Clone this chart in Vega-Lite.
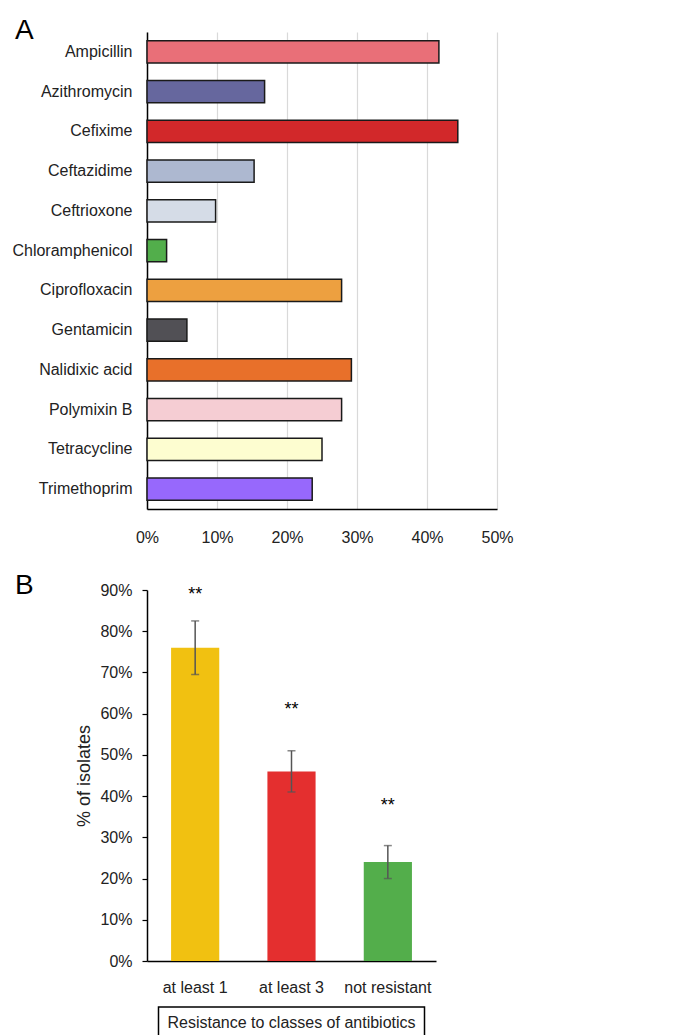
{
  "$schema": "https://vega.github.io/schema/vega-lite/v6.json",
  "autosize": {"type": "pad"},
  "padding": {"left": 11, "top": 17, "right": 10, "bottom": 0},
  "background": "white",
  "config": {
    "font": "Liberation Sans",
    "view": {"stroke": null},
    "axis": {"labelFont": "Liberation Sans", "titleFont": "Liberation Sans", "labelColor": "#222", "titleColor": "#222", "labelFontSize": 16, "titleFontWeight": "normal", "labelFlush": false},
    "title": {"font": "Liberation Sans", "fontSize": 28, "fontWeight": "normal", "anchor": "start", "frame": "group", "baseline": "alphabetic", "offset": 0, "color": "#000"}
  },
  "bounds": "flush",
  "spacing": 81,
  "resolve": {"scale": {"color": "independent"}},
  "vconcat": [
    {
      "width": 350,
      "height": 477,
      "title": {"text": "A", "dx": -132, "dy": 17},
      "data": {"values": [
        {"antibiotic": "Ampicillin", "pct": 0.417},
        {"antibiotic": "Azithromycin", "pct": 0.168},
        {"antibiotic": "Cefixime", "pct": 0.444},
        {"antibiotic": "Ceftazidime", "pct": 0.153},
        {"antibiotic": "Ceftrioxone", "pct": 0.098},
        {"antibiotic": "Chloramphenicol", "pct": 0.028},
        {"antibiotic": "Ciprofloxacin", "pct": 0.278},
        {"antibiotic": "Gentamicin", "pct": 0.057},
        {"antibiotic": "Nalidixic acid", "pct": 0.292},
        {"antibiotic": "Polymixin B", "pct": 0.278},
        {"antibiotic": "Tetracycline", "pct": 0.25},
        {"antibiotic": "Trimethoprim", "pct": 0.236}
      ]},
      "mark": {"type": "bar", "stroke": "#1a1a1a", "strokeWidth": 1.5},
      "encoding": {
        "y": {"field": "antibiotic", "type": "nominal", "sort": null,
          "scale": {"paddingInner": 0.44, "paddingOuter": 0.22},
          "axis": {"title": null, "ticks": false, "labelPadding": 15, "domainColor": "#000", "domainWidth": 1.5, "labelLimit": 200}},
        "x": {"field": "pct", "type": "quantitative", "scale": {"domain": [0, 0.5]},
          "axis": {"title": null, "format": ".0%", "values": [0, 0.1, 0.2, 0.3, 0.4, 0.5], "ticks": false, "grid": true, "gridColor": "#d9d9d9", "gridWidth": 1.2, "domainColor": "#000", "domainWidth": 1.5, "labelPadding": 20}},
        "color": {"field": "antibiotic", "type": "nominal", "legend": null,
          "scale": {
            "domain": ["Ampicillin", "Azithromycin", "Cefixime", "Ceftazidime", "Ceftrioxone", "Chloramphenicol", "Ciprofloxacin", "Gentamicin", "Nalidixic acid", "Polymixin B", "Tetracycline", "Trimethoprim"],
            "range": ["#E96F78", "#66679E", "#D2282A", "#ADB8D0", "#D5DCE7", "#52AE4B", "#EDA040", "#515055", "#E8702A", "#F5CDD3", "#FDFDD0", "#9768FC"]}}
      }
    },
    {
      "bounds": "flush",
      "spacing": 46,
      "center": true,
      "vconcat": [
        {
          "width": 289,
          "height": 371,
          "title": {"text": "B", "dx": -132, "dy": 22},
          "data": {"values": [
            {"category": "at least 1", "pct": 0.76, "lo": 0.695, "hi": 0.825, "star": 0.888, "sig": "**"},
            {"category": "at least 3", "pct": 0.46, "lo": 0.41, "hi": 0.51, "star": 0.61, "sig": "**"},
            {"category": "not resistant", "pct": 0.24, "lo": 0.2, "hi": 0.28, "star": 0.375, "sig": "**"}
          ]},
          "encoding": {
            "x": {"field": "category", "type": "nominal", "sort": null,
              "scale": {"paddingInner": 0.5, "paddingOuter": 0.25},
              "axis": {"title": null, "labelAngle": 0, "ticks": false, "labelPadding": 18, "domainColor": "#000", "domainWidth": 1.5}}
          },
          "layer": [
            {
              "mark": {"type": "bar"},
              "encoding": {
                "y": {"field": "pct", "type": "quantitative", "scale": {"domain": [0, 0.9]},
                  "axis": {"title": "% of isolates", "format": ".0%", "values": [0, 0.1, 0.2, 0.3, 0.4, 0.5, 0.6, 0.7, 0.8, 0.9], "grid": false, "tickColor": "#000", "tickSize": 5, "tickWidth": 1.2, "domainColor": "#000", "domainWidth": 1.5, "labelPadding": 10, "titleFontSize": 18, "titlePadding": 6}},
                "color": {"field": "category", "type": "nominal", "legend": null, "sort": null,
                  "scale": {"domain": ["at least 1", "at least 3", "not resistant"], "range": ["#F1C111", "#E42F2F", "#53AE4B"]}}
              }
            },
            {
              "mark": {"type": "rule", "color": "#555", "strokeWidth": 1.5},
              "encoding": {"y": {"field": "lo", "type": "quantitative"}, "y2": {"field": "hi"}}
            },
            {
              "mark": {"type": "tick", "color": "#555", "thickness": 1.5, "size": 8},
              "encoding": {"y": {"field": "lo", "type": "quantitative"}}
            },
            {
              "mark": {"type": "tick", "color": "#555", "thickness": 1.5, "size": 8},
              "encoding": {"y": {"field": "hi", "type": "quantitative"}}
            },
            {
              "mark": {"type": "text", "fontSize": 18, "baseline": "middle", "color": "#000", "font": "Liberation Sans"},
              "encoding": {"y": {"field": "star", "type": "quantitative"}, "text": {"field": "sig"}}
            }
          ]
        },
        {
          "width": 266,
          "height": 32,
          "view": {"stroke": "#000", "strokeWidth": 1.5},
          "data": {"values": [{"label": "Resistance to classes of antibiotics"}]},
          "mark": {"type": "text", "fontSize": 16, "font": "Liberation Sans", "color": "#222", "baseline": "middle"},
          "encoding": {"text": {"field": "label"}}
        }
      ]
    }
  ]
}
